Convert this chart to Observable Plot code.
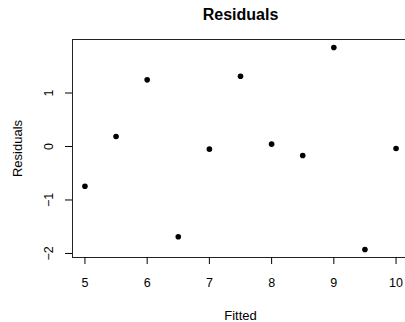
<!DOCTYPE html>
<html>
<head>
<meta charset="utf-8">
<script src="https://cdn.jsdelivr.net/npm/d3@7"></script>
<script src="https://cdn.jsdelivr.net/npm/@observablehq/plot@0.6"></script>
<style>
  html, body { margin: 0; padding: 0; background: #fff; }
</style>
</head>
<body>
<div id="chart"></div>
<script>
const fitted = [5, 5.5, 6, 6.5, 7, 7.5, 8, 8.5, 9, 9.5, 10];
const residuals = [-0.742, 0.187, 1.246, -1.688, -0.05, 1.314, 0.044, -0.168, 1.85, -1.925, -0.037];
const xTicks = [5, 6, 7, 8, 9, 10];
const yTicks = [-2, -1, 0, 1];
const yTickLabels = ["\u22122", "\u22121", "0", "1"];
const titleText = "Residuals";
const xLabel = "Fitted";
const yLabel = "Residuals";

const points = fitted.map((f, i) => ({fitted: f, residual: residuals[i]}));

const font = "'Liberation Sans', Arial, Helvetica, sans-serif";

const chart = Plot.plot({
  width: 405,
  height: 322,
  marginLeft: 72,
  marginRight: -3,
  marginTop: 39,
  marginBottom: 65,
  style: {fontFamily: font, background: "#fff", color: "#000", overflow: "visible"},
  x: {domain: [4.8, 10.2]},
  y: {domain: [-2.0755, 2.0005]},
  marks: [
    Plot.frame({stroke: "#222", strokeWidth: 1}),
    Plot.axisX({ticks: xTicks, tickSize: 7, tickPadding: 14, fontSize: 12.5, label: null, tickFormat: d => String(d), stroke: "#000", strokeOpacity: 1, fill: "#000"}),
    Plot.axisY({ticks: yTicks, tickSize: 7, tickFormat: () => "", label: null, stroke: "#000", strokeOpacity: 1}),
    Plot.text(yTicks, {y: d => d, text: (d, i) => yTickLabels[i], frameAnchor: "left", dx: -23.5, rotate: -90, fontSize: 12.5, textAnchor: "middle", lineAnchor: "middle", fill: "#000"}),
    Plot.dot(points, {x: "fitted", y: "residual", r: 2.8, fill: "#000", stroke: null}),
    Plot.text([titleText], {frameAnchor: "top", dy: -25, fontSize: 16, fontWeight: "bold", lineAnchor: "middle", fill: "#000"}),
    Plot.text([xLabel], {frameAnchor: "bottom", dy: 58, fontSize: 13, lineAnchor: "middle", fill: "#000"}),
    Plot.text([yLabel], {frameAnchor: "left", dx: -55, rotate: -90, fontSize: 13, lineAnchor: "middle", textAnchor: "middle", fill: "#000"})
  ]
});
document.getElementById("chart").appendChild(chart);
</script>
</body>
</html>
